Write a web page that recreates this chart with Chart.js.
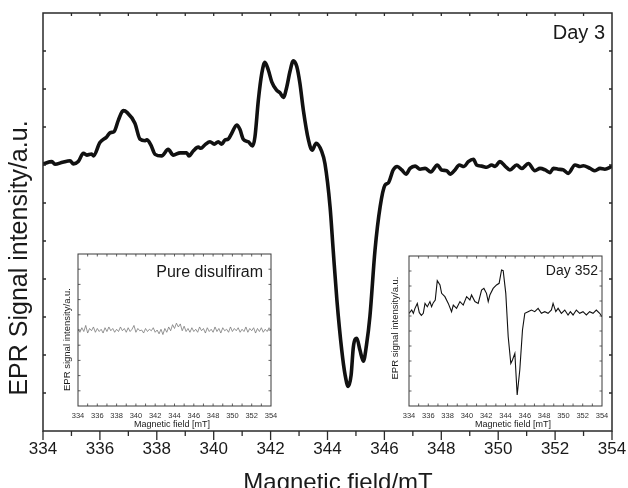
<!DOCTYPE html>
<html><head><meta charset="utf-8">
<script src="https://cdn.jsdelivr.net/npm/chart.js@4.4.0/dist/chart.umd.min.js"></script>
<style>
html,body{margin:0;padding:0;background:#fff;}
#wrap{position:relative;width:628px;height:488px;overflow:hidden;}
#main{position:absolute;left:0;top:0;}
#ins1{position:absolute;left:56px;top:248px;}
#ins2{position:absolute;left:385px;top:248px;}
</style></head><body>
<div id="wrap">
<canvas id="main" width="628" height="488"></canvas>
<canvas id="ins1" width="222" height="184"></canvas>
<canvas id="ins2" width="224" height="184"></canvas>
</div>
<script>
// ---------------- data ----------------
const xTickLabels = [334,336,338,340,342,344,346,348,350,352,354];

// Main spectrum (Day 3): magnetic field (mT) and EPR signal (a.u.)
const mainField = [334.01,334.31,334.42,334.69,334.95,335.07,335.24,335.42,335.54,335.71,
335.77,336.00,336.24,336.36,336.50,336.65,336.82,336.96,337.23,337.41,
337.59,337.65,337.79,337.94,338.17,338.40,338.58,338.82,339.05,339.13,
339.28,339.46,339.55,339.69,339.87,340.02,340.16,340.28,340.40,340.51,
340.63,340.81,340.92,341.04,341.22,341.37,341.45,341.57,341.69,341.80,
341.92,342.04,342.21,342.33,342.45,342.57,342.68,342.80,342.92,343.03,
343.15,343.33,343.46,343.60,343.80,343.91,344.09,344.20,344.33,344.50,
344.62,344.73,344.83,344.91,345.03,345.14,345.26,345.37,345.49,345.67,
345.85,346.02,346.14,346.31,346.45,346.61,346.76,346.90,347.08,347.25,
347.43,347.63,347.86,348.01,348.19,348.31,348.48,348.63,348.80,348.95,
349.13,349.24,349.42,349.60,349.77,349.89,350.06,350.24,350.41,350.65,
350.83,351.06,351.29,351.47,351.65,351.82,351.94,352.11,352.29,352.46,
352.70,352.88,352.99,353.23,353.40,353.58,353.75,353.99];
const mainSignal = [0.03,0.09,0.02,0.07,0.11,0.03,0.09,0.31,0.26,0.29,
0.24,0.59,0.74,0.85,0.88,1.18,1.43,1.38,1.10,0.68,
0.64,0.66,0.53,0.28,0.24,0.41,0.26,0.32,0.32,0.24,
0.37,0.47,0.44,0.53,0.61,0.55,0.61,0.55,0.66,0.68,
0.83,1.05,0.94,0.68,0.61,0.50,0.74,1.71,2.41,2.70,
2.50,2.19,1.97,1.90,1.78,2.06,2.46,2.74,2.59,2.15,
1.45,0.66,0.39,0.57,0.35,0.04,-1.10,-2.24,-3.55,-4.87,
-5.53,-5.83,-5.53,-4.78,-4.56,-4.87,-5.16,-4.74,-3.99,-2.24,
-1.10,-0.53,-0.47,-0.13,-0.04,-0.13,-0.24,-0.09,-0.03,-0.11,
-0.09,-0.18,0.00,-0.13,-0.15,-0.24,-0.13,0.00,-0.04,0.09,
0.15,0.00,-0.03,-0.06,0.00,-0.04,0.09,-0.03,-0.13,0.00,
-0.09,0.04,-0.15,-0.09,-0.13,-0.20,-0.09,-0.11,-0.13,-0.22,
0.00,-0.04,-0.02,-0.09,-0.15,-0.09,-0.11,-0.04];

// Inset: pure disulfiram (noise only)
const pureField = [334.0,334.2,334.4,334.6,334.8,335.0,335.2,335.4,335.6,335.8,
336.0,336.2,336.4,336.6,336.8,337.0,337.2,337.4,337.6,337.8,
338.0,338.2,338.4,338.6,338.8,339.0,339.2,339.4,339.6,339.8,
340.0,340.2,340.4,340.6,340.8,341.0,341.2,341.4,341.6,341.8,
342.0,342.2,342.4,342.6,342.8,343.0,343.2,343.4,343.6,343.8,
344.0,344.2,344.4,344.6,344.8,345.0,345.2,345.4,345.6,345.8,
346.0,346.2,346.4,346.6,346.8,347.0,347.2,347.4,347.6,347.8,
348.0,348.2,348.4,348.6,348.8,349.0,349.2,349.4,349.6,349.8,
350.0,350.2,350.4,350.6,350.8,351.0,351.2,351.4,351.6,351.8,
352.0,352.2,352.4,352.6,352.8,353.0,353.2,353.4,353.6,353.8,354.0];
const pureSignal = [5.05,4.85,5.15,4.90,5.30,4.80,5.10,4.95,5.20,4.85,
5.10,4.90,5.05,4.80,5.15,4.90,5.20,4.95,5.10,4.85,
5.05,4.90,5.20,4.95,5.10,4.85,5.15,4.90,5.05,5.30,
4.85,5.10,4.95,5.00,4.80,5.10,4.90,5.05,4.95,5.15,
4.85,5.00,4.75,5.05,4.70,5.10,4.85,5.20,4.95,5.35,
5.10,5.45,5.20,5.40,4.95,5.25,4.90,5.10,4.85,5.15,
4.90,5.05,4.85,5.20,4.95,5.10,4.80,5.15,4.90,5.05,
4.85,5.20,4.90,5.10,4.80,5.15,4.95,5.05,4.85,5.20,
4.90,5.10,4.95,5.15,4.85,5.05,4.90,5.20,4.85,5.10,
4.95,5.15,4.80,5.10,4.90,5.15,4.85,5.05,4.90,5.15,5.00];

// Inset: Day 352
const day352Field = [334.00,334.28,334.45,334.62,334.86,335.07,335.28,335.48,335.66,335.90,
336.17,336.34,336.52,336.72,336.93,337.21,337.38,337.72,338.07,338.41,
338.59,338.93,339.28,339.62,339.97,340.31,340.48,340.83,341.17,341.52,
341.76,342.03,342.21,342.38,342.72,343.07,343.34,343.59,343.76,344.03,
344.28,344.55,344.72,344.97,345.21,345.48,345.76,346.00,346.34,346.69,
347.03,347.38,347.72,348.07,348.41,348.76,348.93,349.21,349.45,349.79,
350.14,350.48,350.72,351.00,351.34,351.69,352.03,352.38,352.72,353.07,
353.41,353.76,354.00];
const day352Signal = [6.18,6.40,6.18,6.51,6.84,6.22,6.04,6.18,6.84,6.62,
6.96,6.62,6.89,7.07,8.36,8.07,7.51,7.29,6.84,6.29,
6.73,6.51,6.96,6.73,7.29,7.07,7.40,6.96,6.84,7.73,
7.84,7.51,6.96,7.40,7.84,8.07,8.18,9.07,9.02,7.51,
4.62,2.84,3.07,3.51,0.73,2.40,5.07,6.18,6.29,6.40,
6.29,6.51,6.18,6.29,6.18,6.40,6.84,6.29,6.51,6.18,
6.40,6.07,6.29,6.07,6.40,6.18,6.29,6.07,6.29,6.18,
6.40,6.18,5.96];

// ---------------- helpers ----------------
const FONT = "'Liberation Sans', Arial, Helvetica, sans-serif";
const pts = (xs, ys) => xs.map((v, i) => ({x: v, y: ys[i]}));
const intRange = (a, b) => { const r = []; for (let v = a; v <= b; v++) r.push(v); return r; };
const minorOf = (a, b, major) => intRange(a, b).filter(v => !major.includes(v));
const noPad = s => { s.paddingLeft = 0; s.paddingRight = 0; s.paddingTop = 0; s.paddingBottom = 0; };

const frameTicks = {
  id: 'frameTicks',
  afterDatasetsDraw(chart, args, o) {
    const {ctx, chartArea: a, scales} = chart;
    const xs = scales.x, ys = scales.y;
    ctx.save();
    ctx.strokeStyle = o.color;
    ctx.lineWidth = o.tickWidth;
    ctx.beginPath();
    (o.bottom || []).forEach(t => t.values.forEach(v => { const p = xs.getPixelForValue(v); ctx.moveTo(p, a.bottom); ctx.lineTo(p, a.bottom - t.len); }));
    (o.top || []).forEach(t => t.values.forEach(v => { const p = xs.getPixelForValue(v); ctx.moveTo(p, a.top); ctx.lineTo(p, a.top + t.len); }));
    (o.left || []).forEach(t => t.values.forEach(v => { const p = ys.getPixelForValue(v); ctx.moveTo(a.left, p); ctx.lineTo(a.left + t.len, p); }));
    (o.right || []).forEach(t => t.values.forEach(v => { const p = ys.getPixelForValue(v); ctx.moveTo(a.right, p); ctx.lineTo(a.right - t.len, p); }));
    ctx.stroke();
    ctx.lineWidth = o.lineWidth;
    ctx.strokeRect(a.left, a.top, a.right - a.left, a.bottom - a.top);
    ctx.restore();
  }
};

const textPlugin = {
  id: 'texts',
  afterDraw(chart, args, o) {
    const ctx = chart.ctx;
    (o.items || []).forEach(t => {
      ctx.save();
      ctx.font = `${t.size}px ${FONT}`;
      ctx.fillStyle = t.color || '#1a1a1a';
      ctx.textAlign = t.align || 'center';
      ctx.textBaseline = 'alphabetic';
      ctx.translate(t.x, t.y);
      if (t.rotate) ctx.rotate(t.rotate);
      ctx.fillText(t.text, 0, 0);
      ctx.restore();
    });
  }
};

// ---------------- main chart ----------------
new Chart(document.getElementById('main'), {
  type: 'line',
  data: { datasets: [{
    data: pts(mainField, mainSignal),
    borderColor: '#111', borderWidth: 3.6, pointRadius: 0, fill: false,
    cubicInterpolationMode: 'monotone', borderJoinStyle: 'round', borderCapStyle: 'round'
  }]},
  options: {
    responsive: false, animation: false, devicePixelRatio: 1,
    layout: { padding: { left: 0, right: 16, top: 13, bottom: 0 } },
    plugins: {
      legend: { display: false }, tooltip: { enabled: false },
      frameTicks: {
        color: '#2a2a2a', lineWidth: 1.5, tickWidth: 1.3,
        bottom: [{ values: xTickLabels, len: -9 }, { values: minorOf(334, 354, xTickLabels), len: -5 }],
        top: [{ values: intRange(335, 353), len: 3 }],
        left: [{ values: intRange(-6, 3), len: 3 }],
        right: [{ values: intRange(-6, 3), len: 3 }]
      },
      texts: { items: [
        { text: 'Day 3', x: 605, y: 39, size: 20, align: 'right' },
        { text: 'Magnetic field/mT', x: 338, y: 490, size: 24 },
        { text: 'EPR Signal intensity/a.u.', x: 27, y: 258, size: 25, rotate: -Math.PI / 2 }
      ]}
    },
    scales: {
      x: {
        type: 'linear', min: 334, max: 354,
        grid: { display: false, drawTicks: false }, border: { display: false },
        afterBuildTicks: s => { s.ticks = xTickLabels.map(v => ({ value: v })); },
        ticks: { font: { family: FONT, size: 17 }, color: '#1a1a1a', padding: 8, maxRotation: 0, autoSkip: false },
        afterFit: s => { s.height = 57; noPad(s); }
      },
      y: {
        min: -7, max: 4,
        grid: { display: false, drawTicks: false }, border: { display: false },
        ticks: { display: false },
        afterFit: s => { s.width = 43; noPad(s); }
      }
    }
  },
  plugins: [frameTicks, textPlugin]
});

// ---------------- insets ----------------
function inset(id, field, signal, color, width, padLeftW, padRight, padTop, texts) {
  return new Chart(document.getElementById(id), {
    type: 'line',
    data: { datasets: [{
      data: pts(field, signal), borderColor: color, borderWidth: width,
      pointRadius: 0, fill: false, tension: 0
    }]},
    options: {
      responsive: false, animation: false, devicePixelRatio: 1,
      layout: { padding: { left: 0, right: padRight, top: padTop, bottom: 0 } },
      plugins: {
        legend: { display: false }, tooltip: { enabled: false },
        frameTicks: {
          color: '#3a3a3a', lineWidth: 1, tickWidth: 0.8,
          bottom: [{ values: intRange(335, 353), len: 2.5 }],
          top: [{ values: intRange(335, 353), len: 2.5 }],
          left: [{ values: intRange(1, 9), len: 2.5 }],
          right: [{ values: intRange(1, 9), len: 2.5 }]
        },
        texts: { items: texts }
      },
      scales: {
        x: {
          type: 'linear', min: 334, max: 354,
          grid: { display: false, drawTicks: false }, border: { display: false },
          afterBuildTicks: s => { s.ticks = xTickLabels.map(v => ({ value: v })); },
          ticks: { font: { family: FONT, size: 7.5 }, color: '#333', padding: 5, maxRotation: 0, autoSkip: false },
          afterFit: s => { s.height = 26; noPad(s); }
        },
        y: {
          min: 0, max: 10,
          grid: { display: false, drawTicks: false }, border: { display: false },
          ticks: { display: false },
          afterFit: s => { s.width = padLeftW; noPad(s); }
        }
      }
    },
    plugins: [frameTicks, textPlugin]
  });
}

inset('ins1', pureField, pureSignal, '#7a7a7a', 0.8, 22, 7, 6, [
  { text: 'Pure disulfiram', x: 207, y: 29, size: 16, align: 'right' },
  { text: 'Magnetic field [mT]', x: 116, y: 178.5, size: 9 },
  { text: 'EPR signal intensity/a.u.', x: 14, y: 91.5, size: 9.5, rotate: -Math.PI / 2 }
]);
inset('ins2', day352Field, day352Signal, '#111', 1.1, 24, 7, 8, [
  { text: 'Day 352', x: 213, y: 27, size: 14, align: 'right' },
  { text: 'Magnetic field [mT]', x: 128, y: 178.5, size: 9 },
  { text: 'EPR signal intensity/a.u.', x: 13, y: 80, size: 9.5, rotate: -Math.PI / 2 }
]);
</script>
</body></html>
